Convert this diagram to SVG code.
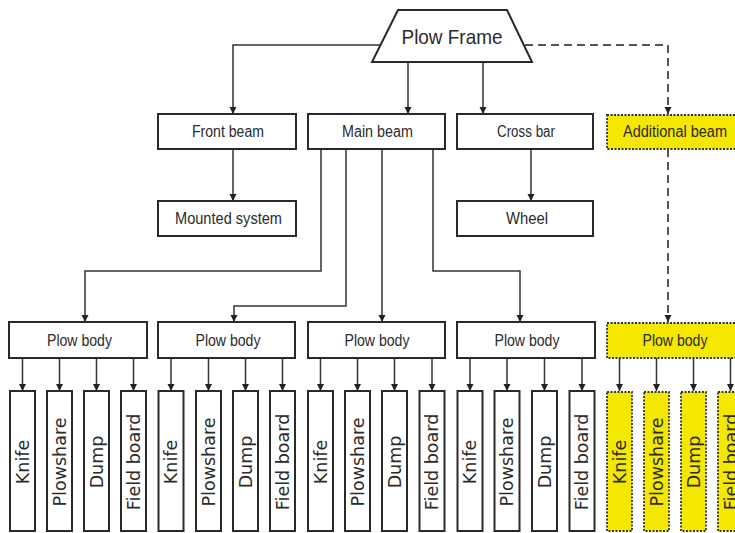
<svg xmlns="http://www.w3.org/2000/svg" width="735" height="533" viewBox="0 0 735 533">
<defs>
<marker id="ah" viewBox="0 0 10 10" refX="10" refY="5" markerWidth="7" markerHeight="9" markerUnits="userSpaceOnUse" orient="auto">
<path d="M0,0 L10,5 L0,10 z" fill="#222"/>
</marker>
</defs>
<style>
.box{fill:#fff;stroke:#2a2a2a;stroke-width:2}
.ybox{fill:#f5e800;stroke:#333;stroke-width:1.8;stroke-dasharray:2 1.5}
.lbl{font-family:"Liberation Sans",Arial,sans-serif;font-size:16px;fill:#2b2b2b;text-anchor:middle}
.title{font-family:"Liberation Sans",Arial,sans-serif;font-size:21px;fill:#2b2b2b;text-anchor:middle}
.leaf{font-family:"DejaVu Sans",Verdana,sans-serif;font-size:17.5px;fill:#2b2b2b;text-anchor:middle}
.ln{fill:none;stroke:#333;stroke-width:1.5}
.dln{fill:none;stroke:#555;stroke-width:2;stroke-dasharray:8 5}
</style>

<g id="connectors">
<polyline class="ln" points="380,45 233,45 233,114" marker-end="url(#ah)"/>
<line class="ln" x1="408" y1="62" x2="408" y2="114" marker-end="url(#ah)"/>
<line class="ln" x1="483" y1="62" x2="483" y2="114" marker-end="url(#ah)"/>
<polyline class="dln" points="525,45 668,45 668,114" marker-end="url(#ah)"/>
<line class="ln" x1="233" y1="149" x2="233" y2="201" marker-end="url(#ah)"/>
<line class="ln" x1="531" y1="149" x2="531" y2="201" marker-end="url(#ah)"/>
<polyline class="ln" points="321,149 321,271 85,271 85,322" marker-end="url(#ah)"/>
<polyline class="ln" points="346,149 346,306 234,306 234,322" marker-end="url(#ah)"/>
<line class="ln" x1="382" y1="149" x2="382" y2="322" marker-end="url(#ah)"/>
<polyline class="ln" points="433,149 433,271 520,271 520,322" marker-end="url(#ah)"/>
<line class="dln" x1="668" y1="149" x2="668" y2="322" marker-end="url(#ah)"/>
<g>
<line class="ln" x1="22.5" y1="358" x2="22.5" y2="391" marker-end="url(#ah)"/>
<line class="ln" x1="59.5" y1="358" x2="59.5" y2="391" marker-end="url(#ah)"/>
<line class="ln" x1="96.5" y1="358" x2="96.5" y2="391" marker-end="url(#ah)"/>
<line class="ln" x1="133.5" y1="358" x2="133.5" y2="391" marker-end="url(#ah)"/>
<line class="ln" x1="171" y1="358" x2="171" y2="391" marker-end="url(#ah)"/>
<line class="ln" x1="208.5" y1="358" x2="208.5" y2="391" marker-end="url(#ah)"/>
<line class="ln" x1="245.5" y1="358" x2="245.5" y2="391" marker-end="url(#ah)"/>
<line class="ln" x1="282.5" y1="358" x2="282.5" y2="391" marker-end="url(#ah)"/>
<line class="ln" x1="320.5" y1="358" x2="320.5" y2="391" marker-end="url(#ah)"/>
<line class="ln" x1="357.5" y1="358" x2="357.5" y2="391" marker-end="url(#ah)"/>
<line class="ln" x1="394.5" y1="358" x2="394.5" y2="391" marker-end="url(#ah)"/>
<line class="ln" x1="432" y1="358" x2="432" y2="391" marker-end="url(#ah)"/>
<line class="ln" x1="470" y1="358" x2="470" y2="391" marker-end="url(#ah)"/>
<line class="ln" x1="507" y1="358" x2="507" y2="391" marker-end="url(#ah)"/>
<line class="ln" x1="544.5" y1="358" x2="544.5" y2="391" marker-end="url(#ah)"/>
<line class="ln" x1="582" y1="358" x2="582" y2="391" marker-end="url(#ah)"/>
<line class="ln" x1="619.5" y1="358" x2="619.5" y2="391" marker-end="url(#ah)"/>
<line class="ln" x1="656.5" y1="358" x2="656.5" y2="391" marker-end="url(#ah)"/>
<line class="ln" x1="693.5" y1="358" x2="693.5" y2="391" marker-end="url(#ah)"/>
<line class="ln" x1="730.5" y1="358" x2="730.5" y2="391" marker-end="url(#ah)"/>
</g>
</g>

<g id="plow-frame">
<polygon class="box" points="398,10 507,10 532,62 372,62"/>
<text class="title" x="452" y="44" textLength="101" lengthAdjust="spacingAndGlyphs">Plow Frame</text>
</g>

<g id="front-beam"><rect class="box" x="158" y="114" width="138" height="35"/><text class="lbl" x="228" y="137" textLength="72" lengthAdjust="spacingAndGlyphs">Front beam</text></g>
<g id="main-beam"><rect class="box" x="308" y="114" width="137" height="35"/><text class="lbl" x="377.5" y="137" textLength="71" lengthAdjust="spacingAndGlyphs">Main beam</text></g>
<g id="cross-bar"><rect class="box" x="457" y="114" width="136" height="35"/><text class="lbl" x="526" y="137" textLength="58" lengthAdjust="spacingAndGlyphs">Cross bar</text></g>
<g id="additional-beam"><rect class="ybox" x="607" y="115" width="140" height="34"/><text class="lbl" x="675" y="137" textLength="104" lengthAdjust="spacingAndGlyphs">Additional beam</text></g>
<g id="mounted-system"><rect class="box" x="158" y="201" width="138" height="35"/><text class="lbl" x="228.5" y="224" textLength="107" lengthAdjust="spacingAndGlyphs">Mounted system</text></g>
<g id="wheel"><rect class="box" x="457" y="201" width="136" height="35"/><text class="lbl" x="527" y="224" textLength="42" lengthAdjust="spacingAndGlyphs">Wheel</text></g>

<g id="plow-body-1"><rect class="box" x="9" y="322" width="138" height="36"/><text class="lbl" x="79.5" y="345.5" textLength="65" lengthAdjust="spacingAndGlyphs">Plow body</text></g>
<g id="plow-body-2"><rect class="box" x="158" y="322" width="137" height="36"/><text class="lbl" x="228" y="345.5" textLength="65" lengthAdjust="spacingAndGlyphs">Plow body</text></g>
<g id="plow-body-3"><rect class="box" x="308" y="322" width="137" height="36"/><text class="lbl" x="377" y="345.5" textLength="65" lengthAdjust="spacingAndGlyphs">Plow body</text></g>
<g id="plow-body-4"><rect class="box" x="457" y="322" width="138" height="36"/><text class="lbl" x="527" y="345.5" textLength="65" lengthAdjust="spacingAndGlyphs">Plow body</text></g>
<g id="plow-body-5"><rect class="ybox" x="607" y="323" width="140" height="35"/><text class="lbl" x="675" y="345.5" textLength="65" lengthAdjust="spacingAndGlyphs">Plow body</text></g>

<g id="knife-1"><rect class="box" x="10" y="391" width="25" height="140"/><text class="leaf" transform="translate(28.5,462) rotate(-90)">Knife</text></g>
<g id="plowshare-1"><rect class="box" x="47" y="391" width="25" height="140"/><text class="leaf" transform="translate(65.5,462) rotate(-90)">Plowshare</text></g>
<g id="dump-1"><rect class="box" x="84" y="391" width="25" height="140"/><text class="leaf" transform="translate(102.5,462) rotate(-90)">Dump</text></g>
<g id="field-board-1"><rect class="box" x="121" y="391" width="25" height="140"/><text class="leaf" transform="translate(139.5,462) rotate(-90)">Field board</text></g>
<g id="knife-2"><rect class="box" x="158.5" y="391" width="25" height="140"/><text class="leaf" transform="translate(177,462) rotate(-90)">Knife</text></g>
<g id="plowshare-2"><rect class="box" x="196" y="391" width="25" height="140"/><text class="leaf" transform="translate(214.5,462) rotate(-90)">Plowshare</text></g>
<g id="dump-2"><rect class="box" x="233" y="391" width="25" height="140"/><text class="leaf" transform="translate(251.5,462) rotate(-90)">Dump</text></g>
<g id="field-board-2"><rect class="box" x="270" y="391" width="25" height="140"/><text class="leaf" transform="translate(288.5,462) rotate(-90)">Field board</text></g>
<g id="knife-3"><rect class="box" x="308" y="391" width="25" height="140"/><text class="leaf" transform="translate(326.5,462) rotate(-90)">Knife</text></g>
<g id="plowshare-3"><rect class="box" x="345" y="391" width="25" height="140"/><text class="leaf" transform="translate(363.5,462) rotate(-90)">Plowshare</text></g>
<g id="dump-3"><rect class="box" x="382" y="391" width="25" height="140"/><text class="leaf" transform="translate(400.5,462) rotate(-90)">Dump</text></g>
<g id="field-board-3"><rect class="box" x="419.5" y="391" width="25" height="140"/><text class="leaf" transform="translate(438,462) rotate(-90)">Field board</text></g>
<g id="knife-4"><rect class="box" x="457.5" y="391" width="25" height="140"/><text class="leaf" transform="translate(476,462) rotate(-90)">Knife</text></g>
<g id="plowshare-4"><rect class="box" x="494.5" y="391" width="25" height="140"/><text class="leaf" transform="translate(513,462) rotate(-90)">Plowshare</text></g>
<g id="dump-4"><rect class="box" x="532" y="391" width="25" height="140"/><text class="leaf" transform="translate(550.5,462) rotate(-90)">Dump</text></g>
<g id="field-board-4"><rect class="box" x="569.5" y="391" width="25" height="140"/><text class="leaf" transform="translate(588,462) rotate(-90)">Field board</text></g>
<g id="knife-5"><rect class="ybox" x="607" y="392" width="25" height="139"/><text class="leaf" transform="translate(625.5,462) rotate(-90)">Knife</text></g>
<g id="plowshare-5"><rect class="ybox" x="644" y="392" width="25" height="139"/><text class="leaf" transform="translate(662.5,462) rotate(-90)">Plowshare</text></g>
<g id="dump-5"><rect class="ybox" x="681" y="392" width="25" height="139"/><text class="leaf" transform="translate(699.5,462) rotate(-90)">Dump</text></g>
<g id="field-board-5"><rect class="ybox" x="718" y="392" width="25" height="139"/><text class="leaf" transform="translate(736.5,462) rotate(-90)">Field board</text></g>
</svg>
